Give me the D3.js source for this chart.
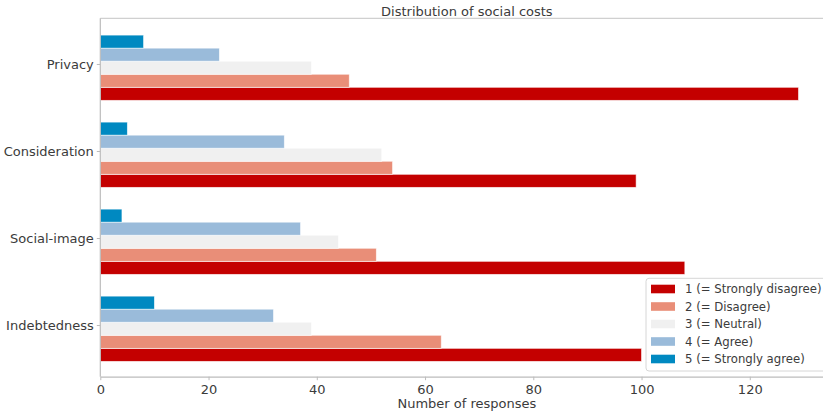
<!DOCTYPE html>
<html><head><meta charset="utf-8">
<script src="https://cdn.jsdelivr.net/npm/d3@7"></script>
<style>
body{margin:0;background:#fff;}
svg{display:block;font-family:"DejaVu Sans",sans-serif;}
</style></head>
<body><div id="chart"></div>
<script>
const categories = ["Privacy", "Consideration", "Social-image", "Indebtedness"];
const seriesNames = ["1 (= Strongly disagree)", "2 (= Disagree)", "3 (= Neutral)", "4 (= Agree)", "5 (= Strongly agree)"];
const stronglyDisagree = [129, 99, 108, 100];
const disagree = [46, 54, 51, 63];
const neutral = [39, 52, 44, 39];
const agree = [22, 34, 37, 32];
const stronglyAgree = [8, 5, 4, 10];
const seriesValues = [stronglyDisagree, disagree, neutral, agree, stronglyAgree];
const colors = ["#c40000", "#e98e78", "#f0f0f0", "#9abbda", "#0089c1"];
const xTicks = [0, 20, 40, 60, 80, 100, 120];
const title = "Distribution of social costs";
const xLabel = "Number of responses";

(function () {
const W = 823, H = 414;
const mLeft = 100.3, mRight = 833.4, mTop = 18.3, mBottom = 376.7;
const textColor = "#3b3b3b", spineColor = "#bcbcbc";

const svg = d3.select("#chart").append("svg").attr("width", W).attr("height", H);

const x = d3.scaleLinear().domain([0, 135.45]).range([mLeft, mRight]);
const y = d3.scaleLinear().domain([-0.525, 3.594]).range([mTop, mBottom]);
const barH = 0.15;

// bars
seriesValues.forEach((vals, i) => {
  svg.append("g").selectAll("rect").data(vals).join("rect")
    .attr("x", x(0))
    .attr("y", (d, j) => y(j + 0.343 - i * 0.15 - barH / 2))
    .attr("width", d => x(d) - x(0))
    .attr("height", y(barH) - y(0))
    .attr("fill", colors[i])
    .attr("stroke", "rgba(255,255,255,0.7)")
    .attr("stroke-width", 0.8);
});

// spines
svg.append("line").attr("x1", mLeft).attr("x2", W).attr("y1", mTop).attr("y2", mTop)
  .attr("stroke", "#d0d0d0").attr("stroke-width", 1.2);
svg.append("line").attr("x1", mLeft).attr("x2", mLeft).attr("y1", mTop).attr("y2", mBottom)
  .attr("stroke", spineColor).attr("stroke-width", 1.2);

// x axis
const xAxis = d3.axisBottom(x).tickValues(xTicks).tickSize(3.5).tickPadding(4).tickSizeOuter(0);
const gx = svg.append("g").attr("transform", `translate(0,${mBottom})`).call(xAxis);
gx.select(".domain").attr("stroke", spineColor).attr("stroke-width", 1.2);
gx.selectAll(".tick line").attr("stroke", spineColor);
gx.selectAll(".tick text").attr("fill", textColor).attr("font-size", 13)
  .attr("font-family", "DejaVu Sans").attr("dy", "0.75em");

// y axis
const yAxis = d3.axisLeft(y).tickValues(d3.range(categories.length))
  .tickFormat(i => categories[i]).tickSize(3.5).tickPadding(3).tickSizeOuter(0);
const gy = svg.append("g").attr("transform", `translate(${mLeft},0)`).call(yAxis);
gy.select(".domain").remove();
gy.selectAll(".tick line").attr("stroke", spineColor);
gy.selectAll(".tick text").attr("fill", textColor).attr("font-size", 13)
  .attr("font-family", "DejaVu Sans");

// title & label
svg.append("text").attr("x", (mLeft + mRight) / 2).attr("y", 15.5).attr("text-anchor", "middle")
  .attr("font-size", 13).attr("fill", textColor).text(title);
svg.append("text").attr("x", (mLeft + mRight) / 2).attr("y", 408).attr("text-anchor", "middle")
  .attr("font-size", 13).attr("fill", textColor).text(xLabel);

// legend
const lg = svg.append("g");
lg.append("rect").attr("x", 646).attr("y", 278.3).attr("width", 184).attr("height", 92.7)
  .attr("rx", 3).attr("fill", "rgba(255,255,255,0.8)").attr("stroke", "#d6d6d6").attr("stroke-width", 1);
seriesNames.forEach((name, i) => {
  const cy = 289 + i * 17.5;
  lg.append("rect").attr("x", 651).attr("y", cy - 4.3).attr("width", 24).attr("height", 8.6)
    .attr("fill", colors[i]);
  lg.append("text").attr("x", 685).attr("y", cy).attr("dy", "0.35em")
    .attr("font-size", 11.7).attr("fill", textColor).text(name);
});
})();
</script></body></html>
